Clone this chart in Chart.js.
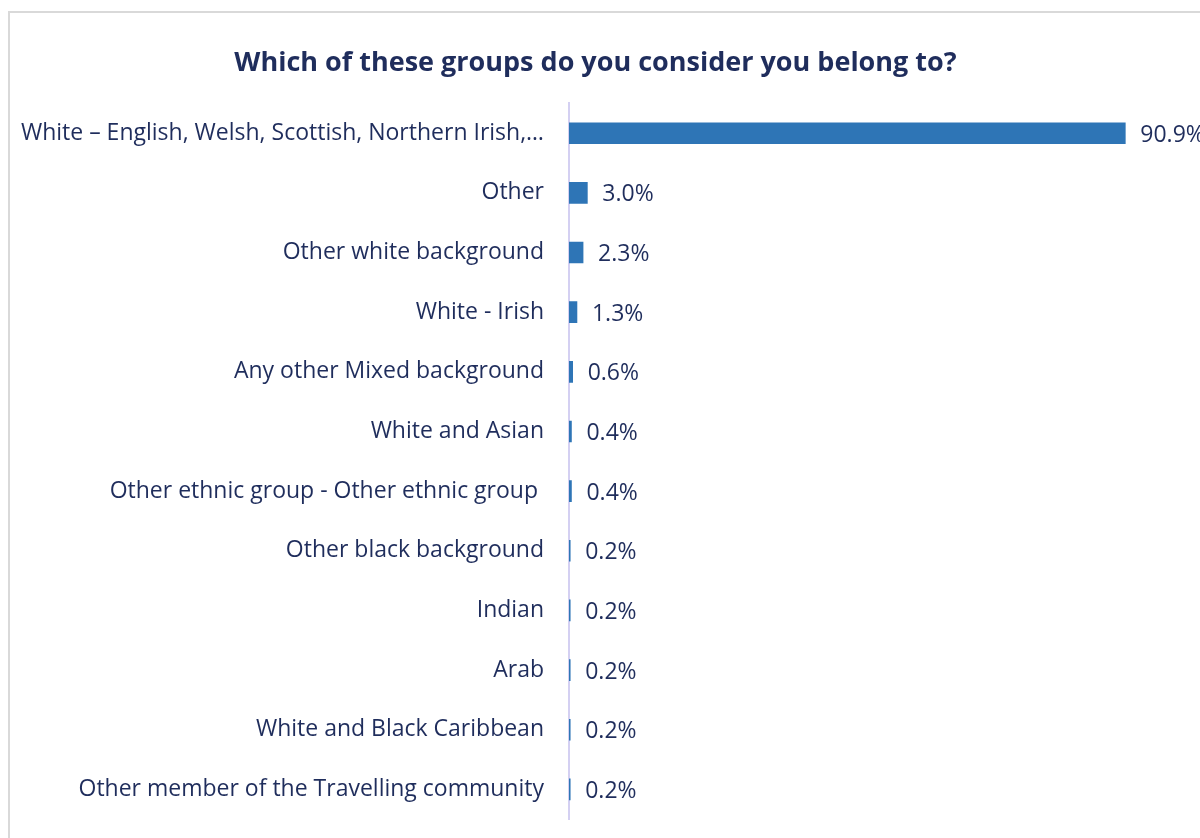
<!DOCTYPE html>
<html>
<head>
<meta charset="utf-8">
<script src="https://cdn.jsdelivr.net/npm/chart.js@4"></script>
<style>
  body { margin: 0; background: #fff; overflow: hidden; }
  #frame {
    position: absolute; left: 8px; top: 11px;
    width: 1300px; height: 900px;
    border-left: 2px solid #d9d9d9; border-top: 2px solid #d9d9d9;
  }
  #barchart { position: absolute; left: 0; top: 0; }
</style>
</head>
<body>
<div id="frame"><canvas id="barchart" width="1190" height="845"></canvas></div>
<script>
const ctx = document.getElementById("barchart");

const categories = [
  "White \u2013 English, Welsh, Scottish, Northern Irish,\u2026",
  "Other",
  "Other white background",
  "White - Irish",
  "Any other Mixed background",
  "White and Asian",
  "Other ethnic group - Other ethnic group ",
  "Other black background",
  "Indian",
  "Arab",
  "White and Black Caribbean",
  "Other member of the Travelling community",
];
const percentages = [90.9, 3.0, 2.3, 1.3, 0.6, 0.4, 0.4, 0.2, 0.2, 0.2, 0.2, 0.2];

const navy = "#1f2d5c";
const fontFamily = "'Open Sans', 'Noto Sans', sans-serif";

// draws the value labels to the right of each bar
const valueLabels = {
  id: "valueLabels",
  afterDatasetsDraw(chart) {
    const c = chart.ctx;
    const meta = chart.getDatasetMeta(0);
    c.save();
    c.fillStyle = navy;
    c.font = "23px " + fontFamily;
    c.textBaseline = "middle";
    c.textAlign = "left";
    meta.data.forEach((bar, i) => {
      c.fillText(percentages[i].toFixed(1) + "%", bar.x + 15, bar.y + 2);
    });
    c.restore();
  },
};

new Chart(ctx, {
  type: "bar",
  data: {
    labels: categories,
    datasets: [
      {
        data: percentages,
        backgroundColor: "#2e75b6",
        borderWidth: 0,
        barThickness: 21,
      },
    ],
  },
  plugins: [valueLabels],
  options: {
    indexAxis: "y",
    responsive: false,
    animation: false,
    layout: {
      padding: { left: 0, right: 19, top: 0, bottom: 6 },
    },
    plugins: {
      legend: { display: false },
      tooltip: { enabled: false },
      title: {
        display: true,
        text: "Which of these groups do you consider you belong to?",
        color: navy,
        font: { family: fontFamily, size: 27, weight: "bold" },
        padding: { top: 34, bottom: 24 },
      },
    },
    scales: {
      x: {
        display: false,
        min: 0,
        max: 100,
      },
      y: {
        grid: { display: false, drawTicks: false },
        border: { color: "#d4d0f2", width: 2 },
        afterFit: (scale) => { scale.width = 559; },
        ticks: {
          color: navy,
          padding: 25,
          font: { family: fontFamily, size: 23 },
        },
      },
    },
  },
});
</script>
</body>
</html>
